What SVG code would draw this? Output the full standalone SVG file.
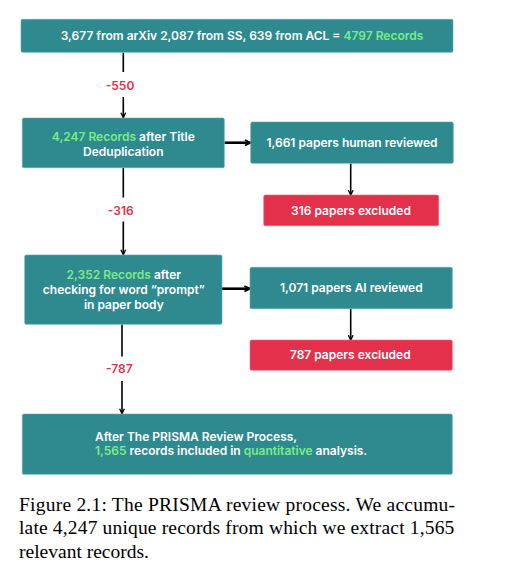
<svg xmlns="http://www.w3.org/2000/svg" width="510" height="577" viewBox="0 0 510 577">
<style>
.box{fill:#2e8a8f;stroke:#5fa9ad;stroke-width:0.6}
.red{fill:#e3314b;stroke:#ee6a7c;stroke-width:0.6}
.t{font-family:Inter,"Noto Sans",sans-serif;font-size:12px;font-weight:600;fill:#ffffff}
.g{fill:#7beb8a}
.lbl{font-family:Inter,"Noto Sans",sans-serif;font-size:12px;font-weight:600;fill:#e3314b;text-anchor:middle}
.c{text-anchor:middle}
.ln{stroke:#000;stroke-width:1.6;fill:none}
.lnh{stroke:#000;stroke-width:2.6;fill:none}
.cap{font-family:"Liberation Serif","Times New Roman",serif;font-size:19.5px;fill:#000}
</style>
<defs>
<marker id="ah" viewBox="0 0 10 10" refX="9" refY="5" markerWidth="6" markerHeight="6" markerUnits="userSpaceOnUse" orient="auto">
<path d="M1,1 L9,5 L1,9" fill="none" stroke="#000" stroke-width="2.2"/>
</marker>
<marker id="ahh" viewBox="0 0 10 10" refX="9" refY="5" markerWidth="7" markerHeight="7" markerUnits="userSpaceOnUse" orient="auto">
<path d="M1,1 L9,5 L1,9" fill="none" stroke="#000" stroke-width="2.4"/>
</marker>
</defs>
<rect width="510" height="577" fill="#ffffff"/>
<g id="connectors">
<line class="ln" x1="123.3" y1="52.5" x2="123.3" y2="72"/>
<line class="ln" x1="123.3" y1="97" x2="123.3" y2="117.5" marker-end="url(#ah)"/>
<line class="lnh" x1="224.5" y1="142.7" x2="250.5" y2="142.7" marker-end="url(#ahh)"/>
<line class="ln" x1="350.7" y1="163.5" x2="350.7" y2="195" marker-end="url(#ah)"/>
<line class="ln" x1="123.3" y1="168" x2="123.3" y2="197.5"/>
<line class="ln" x1="123.3" y1="221.5" x2="123.3" y2="254.5" marker-end="url(#ah)"/>
<line class="lnh" x1="222" y1="288.7" x2="250" y2="288.7" marker-end="url(#ahh)"/>
<line class="ln" x1="350.7" y1="309" x2="350.7" y2="340" marker-end="url(#ah)"/>
<line class="ln" x1="122" y1="324.5" x2="122" y2="356.5"/>
<line class="ln" x1="122" y1="381" x2="122" y2="413.5" marker-end="url(#ah)"/>
<text class="lbl" x="120" y="90">-550</text>
<text class="lbl" x="120.7" y="215">-316</text>
<text class="lbl" x="119.3" y="373.3">-787</text>
</g>
<g id="n-sources">
<rect class="box" x="21" y="19.3" width="432" height="33" rx="1.5"/>
<text class="t c" x="242" y="40">3,677 from arXiv 2,087 from SS, 639 from ACL = <tspan class="g">4797 Records</tspan></text>
</g>
<g id="n-dedup">
<rect class="box" x="22.3" y="118" width="202" height="49.7" rx="1.5"/>
<text class="t c" x="123.3" y="140.8"><tspan class="g">4,247 Records</tspan> after Title</text>
<text class="t c" x="123.3" y="155.5">Deduplication</text>
</g>
<g id="n-human">
<rect class="box" x="250.7" y="122" width="202.6" height="41.3" rx="1.5"/>
<text class="t c" x="352" y="146.8">1,661 papers human reviewed</text>
</g>
<g id="n-excl1">
<rect class="red" x="263.7" y="195" width="175" height="30.7" rx="1.5"/>
<text class="t c" x="351" y="214.5">316 papers excluded</text>
</g>
<g id="n-prompt">
<rect class="box" x="24.7" y="255" width="197.3" height="69.3" rx="1.5"/>
<text class="t c" x="123.8" y="279.2"><tspan class="g">2,352 Records</tspan> after</text>
<text class="t c" x="123.8" y="293.9">checking for word “prompt”</text>
<text class="t c" x="123.8" y="308.5">in paper body</text>
</g>
<g id="n-ai">
<rect class="box" x="250" y="267.3" width="202.3" height="41.4" rx="1.5"/>
<text class="t c" x="351.3" y="291.9">1,071 papers AI reviewed</text>
</g>
<g id="n-excl2">
<rect class="red" x="250" y="340" width="202.3" height="30.3" rx="1.5"/>
<text class="t c" x="350.3" y="359.2">787 papers excluded</text>
</g>
<g id="n-final">
<rect class="box" x="22.3" y="414" width="430" height="60.3" rx="1.5"/>
<text class="t" x="95" y="440.5">After The PRISMA Review Process,</text>
<text class="t" x="95" y="455.2"><tspan class="g">1,565</tspan> records included in <tspan class="g">quantitative</tspan> analysis.</text>
</g>
<g id="caption">
<text class="cap" x="19" y="510.7" textLength="436" lengthAdjust="spacing">Figure 2.1: The PRISMA review process. We accumu-</text>
<text class="cap" x="19" y="534.3" textLength="435.3" lengthAdjust="spacing">late 4,247 unique records from which we extract 1,565</text>
<text class="cap" x="19" y="557.7">relevant records.</text>
</g>
</svg>
